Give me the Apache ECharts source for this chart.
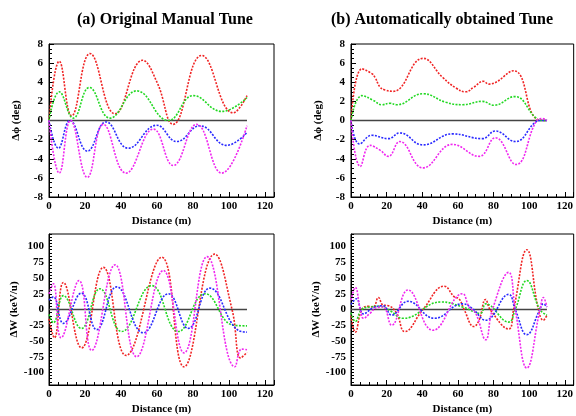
<!DOCTYPE html>
<html><head><meta charset="utf-8">
<script src="https://cdn.jsdelivr.net/npm/echarts@6/dist/echarts.min.js"></script>
<style>html,body{margin:0;padding:0;background:#fff}#c{width:576px;height:416px}</style>
</head><body><div id="c"></div>
<script>
// ---- Data ----
var titles = ['(a) Original Manual Tune', '(b) Automatically obtained Tune'];
var xTicks = [0, 20, 40, 60, 80, 100, 120];
var phiTicks = [-8, -6, -4, -2, 0, 2, 4, 6, 8];
var wTicks = [-100, -75, -50, -25, 0, 25, 50, 75, 100];
var zeroLine = [[0, 0], [110, 0]];

// (a) top: delta phi, original tune
var phiA_red = [[0,0],[5.7,6.2],[12.6,0.5],[22.8,7.0],[36.7,0.7],[52,6.3],[60,4.0],[69,-0.4],[84.8,6.8],[102.4,0.8],[110,2.6]];
var phiA_green = [[0,0],[5.7,3.0],[13.5,0.25],[22.4,3.45],[33.9,0.25],[48.7,3.1],[66.3,0],[80.2,2.6],[96,0.95],[110,2.4]];
var phiA_blue = [[0,0],[5.2,-2.9],[11.7,0],[21.3,-3.2],[31.7,-0.15],[44,-2.9],[59.8,-0.5],[71,-2.2],[83.9,-0.55],[98.7,-2.6],[110,-1.25]];
var phiA_magenta = [[0,0],[5.7,-5.5],[12,0],[21.3,-5.95],[30.2,-0.4],[42.8,-5.5],[58,-0.9],[69,-4.7],[82,-0.4],[96,-5.5],[110,-0.55]];

// (b) top: delta phi, automatic tune
var phiB_red = [[0,0],[6.1,5.4],[11.7,4.9],[13.5,4.5],[16.3,3.5],[19,3.2],[23.7,3.05],[40.4,6.5],[51.5,4.5],[58.9,3.4],[64.4,3.0],[69,3.5],[74.3,4.1],[77.4,3.8],[91.3,5.2],[104.3,0.15],[110,0]];
var phiB_green = [[0,0],[6.1,2.6],[12.6,2.1],[17.2,1.65],[21.9,1.8],[25.6,1.65],[40.4,2.8],[53.3,1.9],[62.6,1.65],[73.7,2.0],[80.2,1.6],[91.9,2.5],[103.3,0.35],[106,0],[110,0]];
var phiB_blue = [[0,0],[4.8,-2.45],[11.7,-1.55],[20.9,-1.9],[27.4,-1.3],[40.4,-2.55],[57,-1.4],[73.7,-1.9],[81.1,-1.1],[92.2,-2.2],[103.3,-0.2],[106,0],[110,0]];
var phiB_magenta = [[0,0],[5.2,-4.8],[10.7,-2.6],[16.3,-3.1],[20.9,-3.75],[27.4,-2.2],[40.4,-4.95],[57,-2.5],[71.9,-3.75],[81.1,-1.8],[92.6,-4.6],[104.3,0],[107.4,0.2],[110,0]];

// (a) bottom: delta W, original tune
var wA_red = [[0,-15],[3,-45],[8,43],[18.1,-61],[30.2,67],[42.8,-73],[62.6,83],[75,-91],[92,88],[101.7,0],[106.5,-77],[110,-68]];
var wA_green = [[0,-8],[2.4,-21],[8,22],[18,-30],[28.3,33],[40.4,-35],[57,38],[71.9,-35],[86.7,25],[102.4,-25],[110,-26]];
var wA_blue = [[0,15],[2.4,20],[8,-22],[18,26],[26.5,-32],[37.6,36],[52.4,-37],[66.3,25],[77.4,-30],[89.4,34],[105,-33],[110,-36]];
var wA_magenta = [[0,25],[2.4,41],[6.7,-45],[16.7,46],[23.7,-65],[36.7,71],[48.7,-75],[63.5,62],[75,-69],[87.8,84],[103.3,-91],[107,-63],[110,-64]];

// (b) bottom: delta W, automatic tune
var wB_red = [[0,-10],[2.4,-36],[6.1,0],[9.8,5],[12.5,4],[15.4,19],[18,7],[21,6],[25.6,-6],[30.2,-35],[40.4,0],[52.4,37],[58,20],[60.7,17],[63.5,0],[69,-27],[71.9,-17],[75.6,16],[78.3,-1],[88.5,-31],[91.3,0],[98.7,95],[105.2,0],[108,-17],[110,-9]];
var wB_green = [[0,-5],[2.4,-19],[6,0],[10.7,4],[16.3,5],[21.9,-2],[29.3,-14],[50.6,12],[62.6,4],[72.8,-6],[75.6,9],[88.5,-20],[92.2,0],[98.7,46],[106,0],[110,-9]];
var wB_blue = [[0,8],[3,17],[7,-7],[12.6,3],[18,6],[22.8,-9],[32,13],[46.9,-14],[62.6,9],[68,2],[75.6,-17],[88.5,24],[92.2,0],[98.7,-40],[106,0],[108,9],[110,4]];
var wB_magenta = [[0,15],[2.4,35],[5.2,0],[7,-14],[10.7,-6],[14.4,3],[18,4],[22.8,-25],[32,31],[46,-33],[62.6,25],[66.3,4],[70,-6],[75.6,-48],[79.3,-1],[88.5,59],[92.2,0],[98.7,-93],[106.1,0],[108,19],[110,4]];

var colors = {red:'#f02424', green:'#22d822', blue:'#2a2aff', magenta:'#f028f0'};

// ---- Chart ----
var FONT = 'Liberation Serif';
var chart = echarts.init(document.getElementById('c'), null, {renderer:'canvas'});
var grids = [
  {left:49, top:44, width:225, height:153},
  {left:351, top:44, width:225, height:153},
  {left:49, top:234, width:225, height:154},
  {left:351, top:234, width:225, height:154}
];
grids.forEach(function(g){ g.show = true; g.borderColor = '#000'; g.borderWidth = 1; g.backgroundColor = 'transparent'; g.containLabel = false; });

var lblStyle = {color:'#000', fontFamily:FONT, fontWeight:'bold', fontSize:11};
function xAxis(i){
  return {type:'value', gridIndex:i, min:xTicks[0], max:125, interval:xTicks[1]-xTicks[0],
    name:'Distance (m)', nameLocation:'middle', nameGap:19,
    nameTextStyle:{color:'#000', fontFamily:FONT, fontWeight:'bold', fontSize:11},
    axisLine:{show:true, onZero:false, lineStyle:{color:'#000', width:1}},
    axisTick:{show:true, inside:true, length:5, lineStyle:{color:'#000'}},
    minorTick:{show:true, splitNumber:4, length:3, lineStyle:{color:'#000'}},
    axisLabel:Object.assign({margin:4, showMaxLabel:false, formatter:function(v){return xTicks.indexOf(v)>=0? String(v):'';}}, lblStyle),
    splitLine:{show:false}};
}
function yPhi(i){
  return {type:'value', gridIndex:i, min:phiTicks[0], max:phiTicks[phiTicks.length-1], interval:2,
    name:'\u0394\u03d5 (deg)', nameLocation:'middle', nameGap:27,
    nameTextStyle:{color:'#000', fontFamily:FONT, fontWeight:'bold', fontSize:11},
    axisLine:{show:true, onZero:false, lineStyle:{color:'#000', width:1}},
    axisTick:{show:true, inside:true, length:5, lineStyle:{color:'#000'}},
    minorTick:{show:true, splitNumber:4, length:3, lineStyle:{color:'#000'}},
    axisLabel:Object.assign({margin:6}, lblStyle),
    splitLine:{show:false}};
}
function yW(i){
  return {type:'value', gridIndex:i, min:-120, max:120, interval:5,
    name:'\u0394W (keV/u)', nameLocation:'middle', nameGap:27,
    nameTextStyle:{color:'#000', fontFamily:FONT, fontWeight:'bold', fontSize:11},
    axisLine:{show:true, onZero:false, lineStyle:{color:'#000', width:1}},
    axisTick:{show:true, inside:true, length:3, lineStyle:{color:'#000'}},
    axisLabel:Object.assign({margin:5, formatter:function(v){return wTicks.indexOf(v)>=0? String(v):'';}}, lblStyle),
    splitLine:{show:false}};
}

function curve(data, color, gi){
  return {type:'line', xAxisIndex:gi, yAxisIndex:gi, data:data, smooth:0.45, showSymbol:false, symbol:'none',
    lineStyle:{color:color, width:1.6, type:[2,1.4]}, silent:true, z:3};
}
function zero(gi){
  return {type:'line', xAxisIndex:gi, yAxisIndex:gi, data:zeroLine, showSymbol:false, symbol:'none',
    lineStyle:{color:'#444', width:1.5}, silent:true, z:2};
}
var sets = [
  [phiA_red, phiA_green, phiA_blue, phiA_magenta],
  [phiB_red, phiB_green, phiB_blue, phiB_magenta],
  [wA_red, wA_green, wA_blue, wA_magenta],
  [wB_red, wB_green, wB_blue, wB_magenta]
];
var series = [];
sets.forEach(function(s, gi){
  series.push(zero(gi));
  series.push(curve(s[0], colors.red, gi));
  series.push(curve(s[1], colors.green, gi));
  series.push(curve(s[2], colors.blue, gi));
  series.push(curve(s[3], colors.magenta, gi));
});

chart.setOption({
  animation:false,
  backgroundColor:'#fff',
  title:[
    {text:titles[0], left:72, top:7, textStyle:{fontFamily:FONT, fontWeight:'bold', fontSize:16, color:'#000'}},
    {text:titles[1], left:326, top:7, textStyle:{fontFamily:FONT, fontWeight:'bold', fontSize:16, color:'#000'}}
  ],
  grid:grids,
  xAxis:[xAxis(0), xAxis(1), xAxis(2), xAxis(3)],
  yAxis:[yPhi(0), yPhi(1), yW(2), yW(3)],
  series:series
});
</script></body></html>
